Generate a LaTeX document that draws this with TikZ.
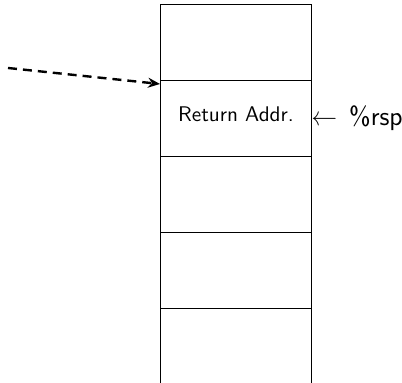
\documentclass[tikz,border=0pt]{standalone}
\usepackage{fontspec}
\usetikzlibrary{arrows.meta}
\begin{document}
\begin{tikzpicture}[x=0.5pt,y=-0.5pt,
  cell/.style={draw, line width=0.5pt, minimum width=75.5pt, minimum height=38pt, inner sep=0pt, outer sep=0pt, anchor=north west},
  opencell/.style={minimum width=75.5pt, minimum height=40pt, inner sep=0pt, outer sep=0pt, anchor=north west},
  sideline/.style={line width=0.5pt},
  lbl/.style={font=\sffamily\fontsize{10.6}{13}\selectfont, inner sep=0pt},
  biglbl/.style={font=\sffamily\fontsize{13.2}{15}\selectfont, inner sep=0pt},
  dasharrow/.style={line width=1.2pt, dash pattern=on 4.5pt off 3pt, -{Stealth[length=6pt,width=5pt,inset=2pt]}}]
\useasboundingbox (0,0) rectangle (402,383);
\node[cell] (c1) at (160,5) {};
\node[cell] (c2) at (160,81) {};
\node[cell] (c3) at (160,157) {};
\node[cell] (c4) at (160,233) {};
\node[opencell] (c5) at (160,309) {};
\draw[sideline] (c5.north west) -- (c5.south west);
\draw[sideline] (c5.north east) -- (c5.south east);
\node[lbl, anchor=base] (ret) at (236,122) {Return Addr.};
\node[biglbl, anchor=base west] (rsp) at (311,126) {←\hspace{6pt}\%rsp};
\coordinate (src) at (8,68);
\draw[dasharrow] (src) -- ([yshift=-1.5pt]c2.north west);
\end{tikzpicture}
\end{document}
